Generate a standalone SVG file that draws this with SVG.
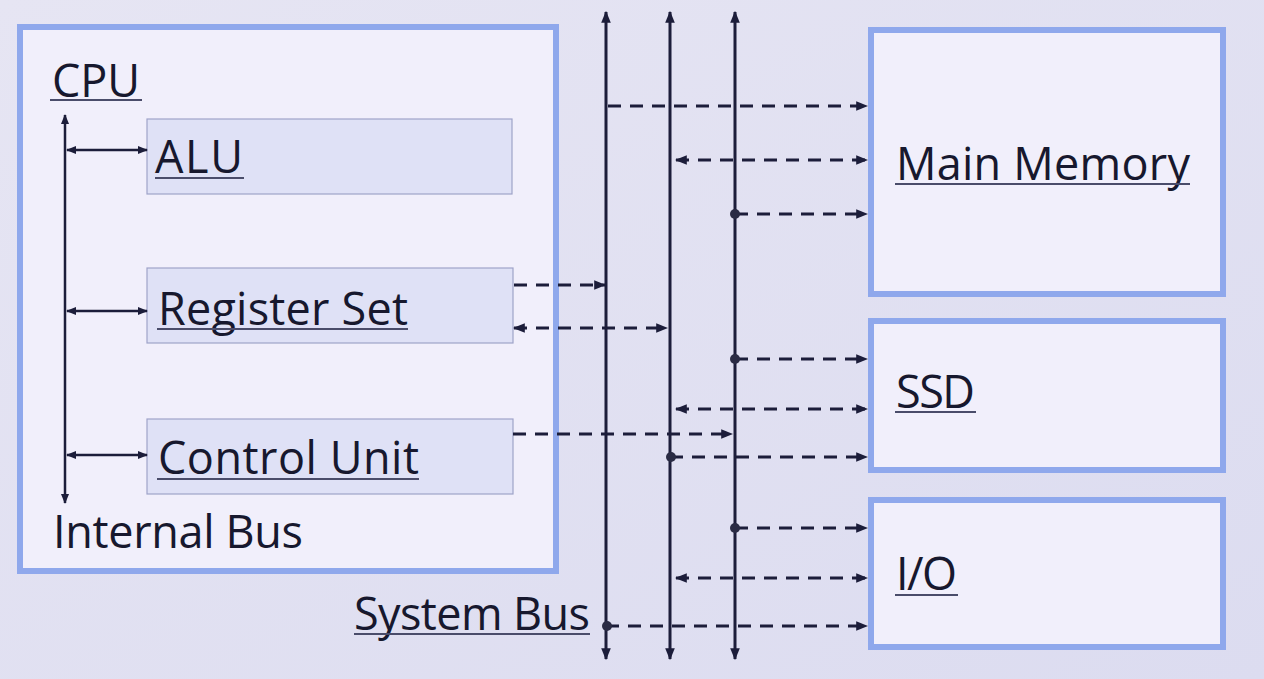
<svg xmlns="http://www.w3.org/2000/svg" width="1264" height="679" viewBox="0 0 1264 679">
  <defs>
    <linearGradient id="bg" x1="0" y1="0" x2="1" y2="1">
      <stop offset="0" stop-color="#e6e5f3"/>
      <stop offset="1" stop-color="#dcdcf0"/>
    </linearGradient>
    <marker id="ah" viewBox="0 0 10 10" refX="9" refY="5" markerWidth="12" markerHeight="12" markerUnits="userSpaceOnUse" orient="auto-start-reverse">
      <path d="M0,1 L10,5 L0,9 z" fill="#1c1d3a"/>
    </marker>
    <marker id="ahs" viewBox="0 0 10 10" refX="9" refY="5" markerWidth="10" markerHeight="10" markerUnits="userSpaceOnUse" orient="auto-start-reverse">
      <path d="M0,1 L10,5 L0,9 z" fill="#1c1d3a"/>
    </marker>
  </defs>
  <style>
    .outer { fill: #f1effb; stroke: #8fa8ec; stroke-width: 6; }
    .inner { fill: #dfe1f6; stroke: #9fa3c9; stroke-width: 1.2; }
    .lbl { font-family: "Open Sans", "Noto Sans", sans-serif; font-size: 45px; fill: #17182e; }
    .ul { stroke: #4a4c6a; stroke-width: 2; }
    .bus { stroke: #1c1d3a; stroke-width: 3; fill: none; }
    .ibus { stroke: #1c1d3a; stroke-width: 2.5; fill: none; }
    .dash { stroke: #1c1d3a; stroke-width: 3; fill: none; stroke-dasharray: 13 9; }
    .dot { fill: #2a2b44; }
  </style>
  <rect x="0" y="0" width="1264" height="679" fill="url(#bg)"/>

  <g id="cpu">
    <rect class="outer" x="20" y="27" width="536" height="544"/>
    <text class="lbl" x="52" y="97" textLength="88">CPU</text>
    <line class="ul" x1="50" y1="100" x2="142" y2="100"/>
    <text class="lbl" x="53" y="548" textLength="250">Internal Bus</text>
  </g>

  <g id="alu">
    <rect class="inner" x="147" y="119" width="365" height="75"/>
    <text class="lbl" x="155" y="173" textLength="88">ALU</text>
    <line class="ul" x1="155" y1="178" x2="244" y2="178"/>
  </g>

  <g id="register-set">
    <rect class="inner" x="147" y="268" width="366" height="75"/>
    <text class="lbl" x="158" y="325" textLength="250">Register Set</text>
    <line class="ul" x1="157" y1="329" x2="408" y2="329"/>
  </g>

  <g id="control-unit">
    <rect class="inner" x="147" y="419" width="366" height="75"/>
    <text class="lbl" x="158" y="474" textLength="261">Control Unit</text>
    <line class="ul" x1="157" y1="479" x2="419" y2="479"/>
  </g>

  <g id="main-memory">
    <rect class="outer" x="871" y="30" width="352" height="264"/>
    <text class="lbl" x="896" y="180" textLength="294">Main Memory</text>
    <line class="ul" x1="895" y1="184" x2="1190" y2="184"/>
  </g>

  <g id="ssd">
    <rect class="outer" x="871" y="321" width="352" height="149"/>
    <text class="lbl" x="896" y="408" textLength="79">SSD</text>
    <line class="ul" x1="895" y1="412" x2="976" y2="412"/>
  </g>

  <g id="io">
    <rect class="outer" x="871" y="500" width="352" height="147"/>
    <text class="lbl" x="896" y="590" textLength="61">I/O</text>
    <line class="ul" x1="895" y1="595" x2="958" y2="595"/>
  </g>

  <g id="system-bus">
    <text class="lbl" x="354" y="630" textLength="236">System Bus</text>
    <line class="ul" x1="354" y1="634" x2="590" y2="634"/>
  </g>

  <g id="connectors">
    <!-- internal bus -->
    <line class="ibus" x1="65" y1="115" x2="65" y2="503" marker-start="url(#ahs)" marker-end="url(#ahs)"/>
    <line class="ibus" x1="67" y1="150" x2="147" y2="150" marker-start="url(#ahs)" marker-end="url(#ahs)"/>
    <line class="ibus" x1="67" y1="311" x2="147" y2="311" marker-start="url(#ahs)" marker-end="url(#ahs)"/>
    <line class="ibus" x1="67" y1="455" x2="147" y2="455" marker-start="url(#ahs)" marker-end="url(#ahs)"/>

    <!-- system bus lines -->
    <line class="bus" x1="606" y1="12" x2="606" y2="659" marker-start="url(#ah)" marker-end="url(#ah)"/>
    <line class="bus" x1="670" y1="12" x2="670" y2="659" marker-start="url(#ah)" marker-end="url(#ah)"/>
    <line class="bus" x1="735" y1="12" x2="735" y2="659" marker-start="url(#ah)" marker-end="url(#ah)"/>

    <!-- main memory -->
    <line class="dash" x1="608" y1="106" x2="867" y2="106" marker-end="url(#ah)"/>
    <line class="dash" x1="676" y1="160" x2="867" y2="160" marker-start="url(#ah)" marker-end="url(#ah)"/>
    <line class="dash" x1="735" y1="214" x2="867" y2="214" marker-end="url(#ah)"/>
    <circle class="dot" cx="735" cy="214" r="5"/>

    <!-- CPU to bus -->
    <line class="dash" x1="514" y1="285" x2="605" y2="285" marker-end="url(#ah)"/>
    <line class="dash" x1="514" y1="328" x2="667" y2="328" marker-start="url(#ah)" marker-end="url(#ah)"/>
    <line class="dash" x1="513" y1="434" x2="732" y2="434" marker-end="url(#ah)"/>

    <!-- SSD -->
    <line class="dash" x1="735" y1="359" x2="867" y2="359" marker-end="url(#ah)"/>
    <circle class="dot" cx="735" cy="359" r="5"/>
    <line class="dash" x1="676" y1="409" x2="867" y2="409" marker-start="url(#ah)" marker-end="url(#ah)"/>
    <line class="dash" x1="670" y1="457" x2="867" y2="457" marker-end="url(#ah)"/>
    <circle class="dot" cx="671" cy="457" r="5"/>

    <!-- I/O -->
    <line class="dash" x1="735" y1="528" x2="867" y2="528" marker-end="url(#ah)"/>
    <circle class="dot" cx="735" cy="528" r="5"/>
    <line class="dash" x1="676" y1="578" x2="867" y2="578" marker-start="url(#ah)" marker-end="url(#ah)"/>
    <line class="dash" x1="606" y1="626" x2="867" y2="626" marker-end="url(#ah)"/>
    <circle class="dot" cx="607" cy="626" r="5"/>
  </g>
</svg>
